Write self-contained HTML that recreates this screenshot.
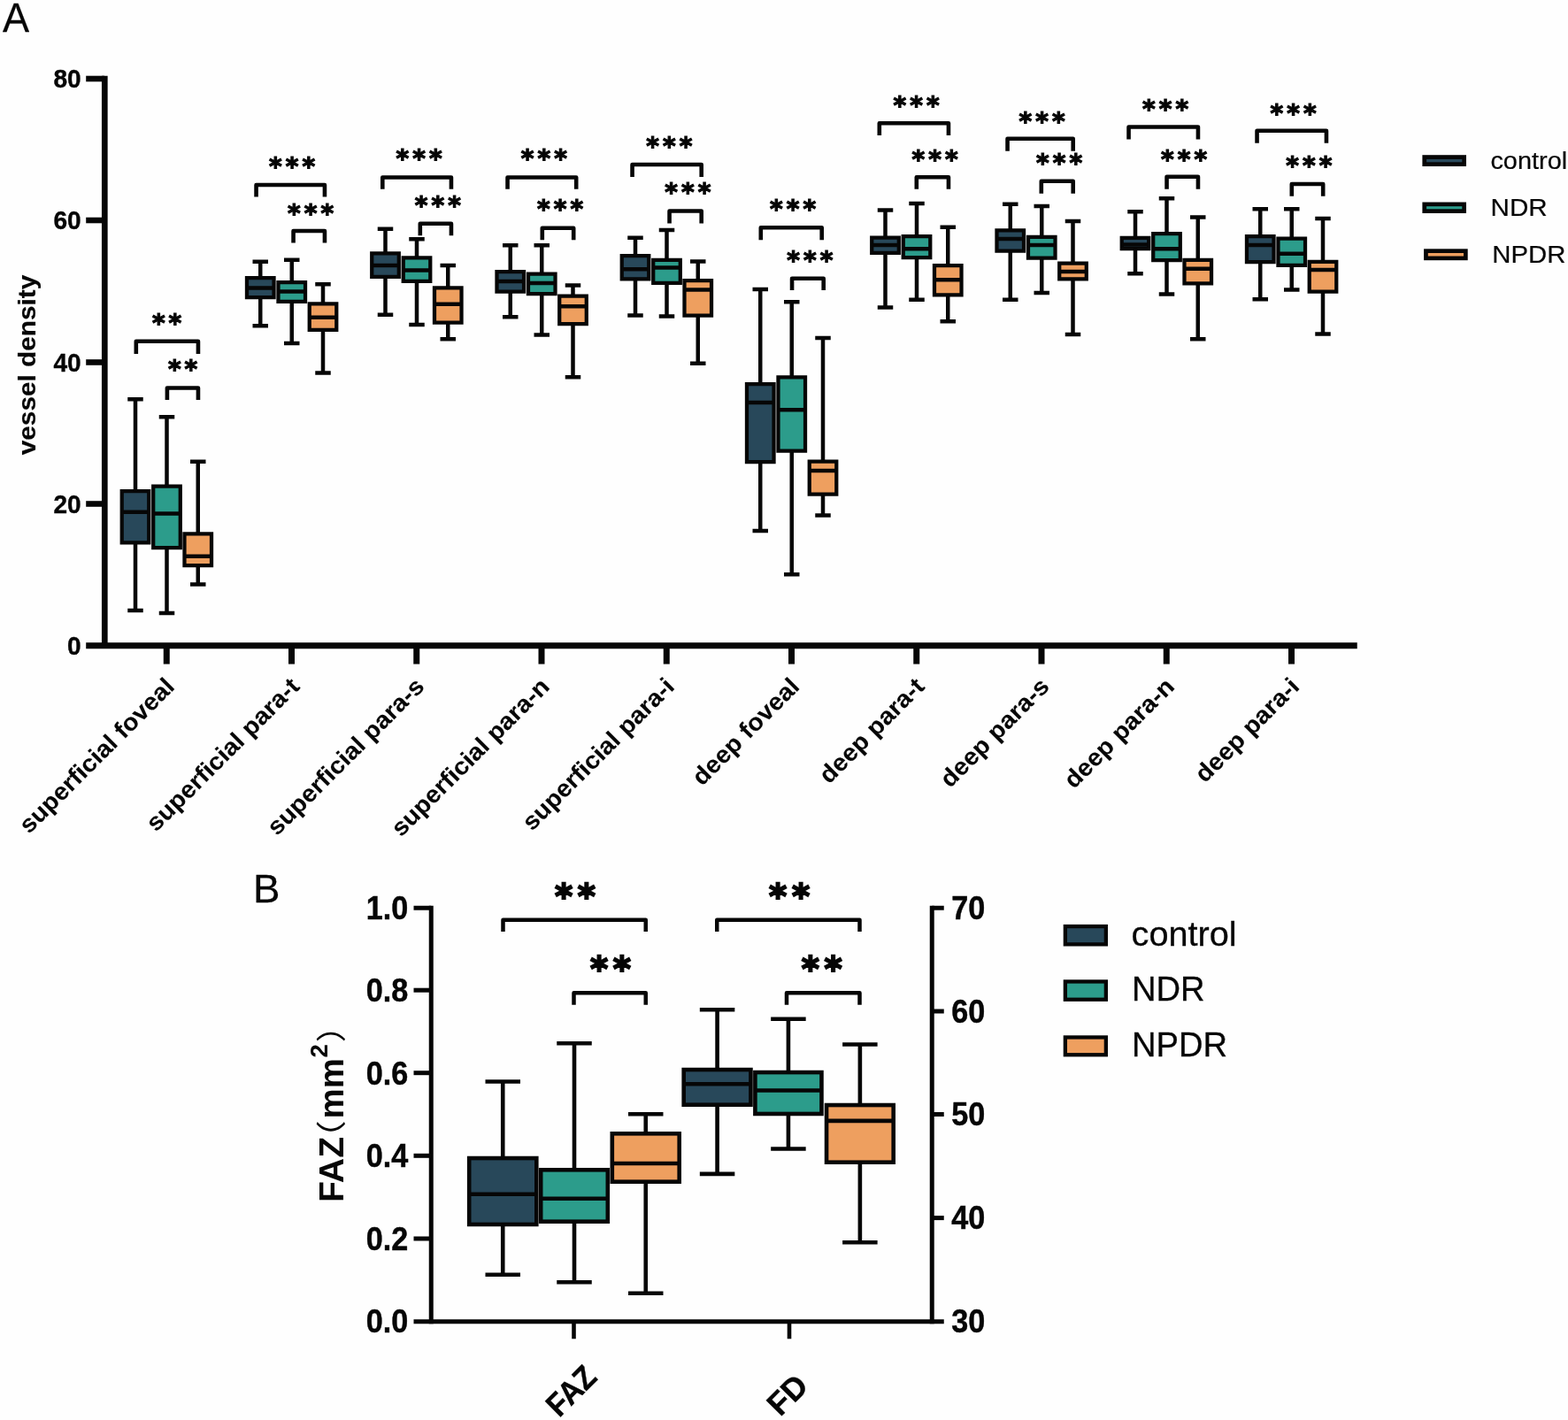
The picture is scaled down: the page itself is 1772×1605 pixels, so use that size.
<!DOCTYPE html>
<html lang="en">
<head>
<meta charset="utf-8">
<title>Vessel density, FAZ and FD box plots</title>
<style>
html,body{margin:0;padding:0;background:#fefefe;}
body{width:1772px;height:1605px;overflow:hidden;}
svg{display:block;}
text{fill:#060606;}
.b{font-family:"Liberation Sans","Noto Sans CJK SC",sans-serif;font-weight:bold;}
.r{font-family:"Liberation Sans","Noto Sans CJK SC",sans-serif;font-weight:normal;}
</style>
</head>
<body>
<svg width="1772" height="1605" viewBox="0 0 1772 1605">
<rect x="0" y="0" width="1772" height="1605" fill="#fefefe"/>
<path d="M118.3 85.75V733.1" stroke="#060606" stroke-width="6.7" fill="none"/>
<path d="M97.2 729.65H1533.75" stroke="#060606" stroke-width="7" fill="none"/>
<path d="M97.2 89H118" stroke="#060606" stroke-width="6.6" fill="none"/>
<path d="M97.2 249H118" stroke="#060606" stroke-width="6.6" fill="none"/>
<path d="M97.2 409.5H118" stroke="#060606" stroke-width="6.6" fill="none"/>
<path d="M97.2 569.5H118" stroke="#060606" stroke-width="6.6" fill="none"/>
<path d="M188.25 729.5V750.6" stroke="#060606" stroke-width="7" fill="none"/>
<path d="M329.5 729.5V750.6" stroke="#060606" stroke-width="7" fill="none"/>
<path d="M470.75 729.5V750.6" stroke="#060606" stroke-width="7" fill="none"/>
<path d="M612 729.5V750.6" stroke="#060606" stroke-width="7" fill="none"/>
<path d="M753.25 729.5V750.6" stroke="#060606" stroke-width="7" fill="none"/>
<path d="M894.5 729.5V750.6" stroke="#060606" stroke-width="7" fill="none"/>
<path d="M1035.75 729.5V750.6" stroke="#060606" stroke-width="7" fill="none"/>
<path d="M1177 729.5V750.6" stroke="#060606" stroke-width="7" fill="none"/>
<path d="M1318.25 729.5V750.6" stroke="#060606" stroke-width="7" fill="none"/>
<path d="M1459.5 729.5V750.6" stroke="#060606" stroke-width="7" fill="none"/>
<text transform="translate(91.6 99.2) scale(0.955 1)" text-anchor="end" class="b" font-size="29.4" stroke="#060606" stroke-width="0.4">80</text>
<text transform="translate(91.6 259.2) scale(0.955 1)" text-anchor="end" class="b" font-size="29.4" stroke="#060606" stroke-width="0.4">60</text>
<text transform="translate(91.6 419.7) scale(0.955 1)" text-anchor="end" class="b" font-size="29.4" stroke="#060606" stroke-width="0.4">40</text>
<text transform="translate(91.6 579.7) scale(0.955 1)" text-anchor="end" class="b" font-size="29.4" stroke="#060606" stroke-width="0.4">20</text>
<text transform="translate(91.6 739.7) scale(0.955 1)" text-anchor="end" class="b" font-size="29.4" stroke="#060606" stroke-width="0.4">0</text>
<text transform="translate(40.3 412.5) rotate(-90) scale(1.075 1)" text-anchor="middle" class="b" font-size="27.7" stroke="#060606" stroke-width="0.15">vessel density</text>
<text transform="translate(2.9 35.6) scale(0.962 1)" class="r" font-size="46.9" stroke="#060606" stroke-width="0.25">A</text>
<text transform="translate(198.65 777.5) rotate(-45) scale(1.052 1)" text-anchor="end" class="b" font-size="27.3" stroke="#060606" stroke-width="0.1">superficial foveal</text>
<text transform="translate(339.9 777.5) rotate(-45) scale(1.052 1)" text-anchor="end" class="b" font-size="27.3" stroke="#060606" stroke-width="0.1">superficial para-t</text>
<text transform="translate(481.15 777.5) rotate(-45) scale(1.052 1)" text-anchor="end" class="b" font-size="27.3" stroke="#060606" stroke-width="0.1">superficial para-s</text>
<text transform="translate(622.4 777.5) rotate(-45) scale(1.052 1)" text-anchor="end" class="b" font-size="27.3" stroke="#060606" stroke-width="0.1">superficial para-n</text>
<text transform="translate(763.65 777.5) rotate(-45) scale(1.052 1)" text-anchor="end" class="b" font-size="27.3" stroke="#060606" stroke-width="0.1">superficial para-i</text>
<text transform="translate(904.9 777.5) rotate(-45) scale(1.052 1)" text-anchor="end" class="b" font-size="27.3" stroke="#060606" stroke-width="0.1">deep foveal</text>
<text transform="translate(1046.15 777.5) rotate(-45) scale(1.052 1)" text-anchor="end" class="b" font-size="27.3" stroke="#060606" stroke-width="0.1">deep para-t</text>
<text transform="translate(1187.4 777.5) rotate(-45) scale(1.052 1)" text-anchor="end" class="b" font-size="27.3" stroke="#060606" stroke-width="0.1">deep para-s</text>
<text transform="translate(1328.65 777.5) rotate(-45) scale(1.052 1)" text-anchor="end" class="b" font-size="27.3" stroke="#060606" stroke-width="0.1">deep para-n</text>
<text transform="translate(1469.9 777.5) rotate(-45) scale(1.052 1)" text-anchor="end" class="b" font-size="27.3" stroke="#060606" stroke-width="0.1">deep para-i</text>
<path d="M153 451.25V690M144.25 451.25H161.75M144.25 690H161.75" stroke="#060606" stroke-width="4.5" fill="none"/>
<rect x="137.72" y="555.12" width="30.55" height="58.25" fill="#28485a" stroke="#060606" stroke-width="4.25"/>
<path d="M137.72 578.75H168.28" stroke="#060606" stroke-width="4.5" fill="none"/>
<path d="M188.5 471.25V693M179.75 471.25H197.25M179.75 693H197.25" stroke="#060606" stroke-width="4.5" fill="none"/>
<rect x="173.22" y="549.62" width="30.55" height="69.5" fill="#2c9c8b" stroke="#060606" stroke-width="4.25"/>
<path d="M173.22 580.5H203.78" stroke="#060606" stroke-width="4.5" fill="none"/>
<path d="M223.75 521.75V660.5M215 521.75H232.5M215 660.5H232.5" stroke="#060606" stroke-width="4.5" fill="none"/>
<rect x="208.47" y="603.38" width="30.55" height="35.75" fill="#ee9f5f" stroke="#060606" stroke-width="4.25"/>
<path d="M208.47 628.75H239.03" stroke="#060606" stroke-width="4.5" fill="none"/>
<path d="M153.8 400V385.7H223.95V400" stroke="#060606" stroke-width="4.6" fill="none" stroke-linejoin="round"/>
<path d="M188.9 452V438.55H223.95V452" stroke="#060606" stroke-width="4.6" fill="none" stroke-linejoin="round"/>
<text x="190.63" y="374.56" text-anchor="middle" font-family="'DejaVu Sans','Liberation Sans',sans-serif" font-weight="bold" font-size="28" letter-spacing="4.07" fill="#060606" stroke="#060606" stroke-width="1.25">**</text>
<text x="208.63" y="427.06" text-anchor="middle" font-family="'DejaVu Sans','Liberation Sans',sans-serif" font-weight="bold" font-size="28" letter-spacing="4.07" fill="#060606" stroke="#060606" stroke-width="1.25">**</text>
<path d="M294.25 295.75V368.25M285.5 295.75H303M285.5 368.25H303" stroke="#060606" stroke-width="4.5" fill="none"/>
<rect x="278.98" y="314.12" width="30.55" height="22" fill="#28485a" stroke="#060606" stroke-width="4.25"/>
<path d="M278.98 325.5H309.52" stroke="#060606" stroke-width="4.5" fill="none"/>
<path d="M329.75 293.75V388M321 293.75H338.5M321 388H338.5" stroke="#060606" stroke-width="4.5" fill="none"/>
<rect x="314.48" y="319.12" width="30.55" height="21.75" fill="#2c9c8b" stroke="#060606" stroke-width="4.25"/>
<path d="M314.48 329.5H345.02" stroke="#060606" stroke-width="4.5" fill="none"/>
<path d="M365 321.25V421.5M356.25 321.25H373.75M356.25 421.5H373.75" stroke="#060606" stroke-width="4.5" fill="none"/>
<rect x="349.73" y="343.38" width="30.55" height="29.5" fill="#ee9f5f" stroke="#060606" stroke-width="4.25"/>
<path d="M349.73 358.75H380.27" stroke="#060606" stroke-width="4.5" fill="none"/>
<path d="M289.55 222.5V209.05H366.95V222.5" stroke="#060606" stroke-width="4.6" fill="none" stroke-linejoin="round"/>
<path d="M331.55 274.5V261.05H366.95V274.5" stroke="#060606" stroke-width="4.6" fill="none" stroke-linejoin="round"/>
<text x="332.04" y="197.75" text-anchor="middle" font-family="'DejaVu Sans','Liberation Sans',sans-serif" font-weight="bold" font-size="28" letter-spacing="4.07" fill="#060606" stroke="#060606" stroke-width="1.25">***</text>
<text x="353.04" y="250.5" text-anchor="middle" font-family="'DejaVu Sans','Liberation Sans',sans-serif" font-weight="bold" font-size="28" letter-spacing="4.07" fill="#060606" stroke="#060606" stroke-width="1.25">***</text>
<path d="M435.5 258.75V355.75M426.75 258.75H444.25M426.75 355.75H444.25" stroke="#060606" stroke-width="4.5" fill="none"/>
<rect x="420.23" y="286.38" width="30.55" height="26.5" fill="#28485a" stroke="#060606" stroke-width="4.25"/>
<path d="M420.23 300H450.77" stroke="#060606" stroke-width="4.5" fill="none"/>
<path d="M471 270.25V367M462.25 270.25H479.75M462.25 367H479.75" stroke="#060606" stroke-width="4.5" fill="none"/>
<rect x="455.73" y="291.38" width="30.55" height="26.5" fill="#2c9c8b" stroke="#060606" stroke-width="4.25"/>
<path d="M455.73 305.5H486.27" stroke="#060606" stroke-width="4.5" fill="none"/>
<path d="M506.25 300V383.25M497.5 300H515M497.5 383.25H515" stroke="#060606" stroke-width="4.5" fill="none"/>
<rect x="490.98" y="325.38" width="30.55" height="39.25" fill="#ee9f5f" stroke="#060606" stroke-width="4.25"/>
<path d="M490.98 343.75H521.52" stroke="#060606" stroke-width="4.5" fill="none"/>
<path d="M432.3 213.75V200.55H509.95V213.75" stroke="#060606" stroke-width="4.6" fill="none" stroke-linejoin="round"/>
<path d="M474.8 266.25V252.8H509.95V266.25" stroke="#060606" stroke-width="4.6" fill="none" stroke-linejoin="round"/>
<text x="475.64" y="189.25" text-anchor="middle" font-family="'DejaVu Sans','Liberation Sans',sans-serif" font-weight="bold" font-size="28" letter-spacing="4.07" fill="#060606" stroke="#060606" stroke-width="1.25">***</text>
<text x="496.79" y="241.75" text-anchor="middle" font-family="'DejaVu Sans','Liberation Sans',sans-serif" font-weight="bold" font-size="28" letter-spacing="4.07" fill="#060606" stroke="#060606" stroke-width="1.25">***</text>
<path d="M576.75 277.25V358.25M568 277.25H585.5M568 358.25H585.5" stroke="#060606" stroke-width="4.5" fill="none"/>
<rect x="561.48" y="307.12" width="30.55" height="22.5" fill="#28485a" stroke="#060606" stroke-width="4.25"/>
<path d="M561.48 318H592.02" stroke="#060606" stroke-width="4.5" fill="none"/>
<path d="M612.25 277.25V378.5M603.5 277.25H621M603.5 378.5H621" stroke="#060606" stroke-width="4.5" fill="none"/>
<rect x="596.98" y="309.62" width="30.55" height="22.5" fill="#2c9c8b" stroke="#060606" stroke-width="4.25"/>
<path d="M596.98 320H627.52" stroke="#060606" stroke-width="4.5" fill="none"/>
<path d="M647.5 322.5V426.25M638.75 322.5H656.25M638.75 426.25H656.25" stroke="#060606" stroke-width="4.5" fill="none"/>
<rect x="632.23" y="334.62" width="30.55" height="31.5" fill="#ee9f5f" stroke="#060606" stroke-width="4.25"/>
<path d="M632.23 346.25H662.77" stroke="#060606" stroke-width="4.5" fill="none"/>
<path d="M573.55 213.75V200.55H651.2V213.75" stroke="#060606" stroke-width="4.6" fill="none" stroke-linejoin="round"/>
<path d="M612.8 271.25V257.8H648.2V271.25" stroke="#060606" stroke-width="4.6" fill="none" stroke-linejoin="round"/>
<text x="616.93" y="189.25" text-anchor="middle" font-family="'DejaVu Sans','Liberation Sans',sans-serif" font-weight="bold" font-size="28" letter-spacing="4.07" fill="#060606" stroke="#060606" stroke-width="1.25">***</text>
<text x="635.03" y="246" text-anchor="middle" font-family="'DejaVu Sans','Liberation Sans',sans-serif" font-weight="bold" font-size="28" letter-spacing="4.07" fill="#060606" stroke="#060606" stroke-width="1.25">***</text>
<path d="M718 268.75V356.5M709.25 268.75H726.75M709.25 356.5H726.75" stroke="#060606" stroke-width="4.5" fill="none"/>
<rect x="702.73" y="289.12" width="30.55" height="26.25" fill="#28485a" stroke="#060606" stroke-width="4.25"/>
<path d="M702.73 304.25H733.27" stroke="#060606" stroke-width="4.5" fill="none"/>
<path d="M753.5 260V357.5M744.75 260H762.25M744.75 357.5H762.25" stroke="#060606" stroke-width="4.5" fill="none"/>
<rect x="738.23" y="293.88" width="30.55" height="26" fill="#2c9c8b" stroke="#060606" stroke-width="4.25"/>
<path d="M738.23 302.5H768.77" stroke="#060606" stroke-width="4.5" fill="none"/>
<path d="M788.75 295.5V410.75M780 295.5H797.5M780 410.75H797.5" stroke="#060606" stroke-width="4.5" fill="none"/>
<rect x="773.48" y="317.12" width="30.55" height="39.5" fill="#ee9f5f" stroke="#060606" stroke-width="4.25"/>
<path d="M773.48 327.5H804.02" stroke="#060606" stroke-width="4.5" fill="none"/>
<path d="M714.55 200V186.05H792.7V200" stroke="#060606" stroke-width="4.6" fill="none" stroke-linejoin="round"/>
<path d="M756.55 252.5V238.55H792.7V252.5" stroke="#060606" stroke-width="4.6" fill="none" stroke-linejoin="round"/>
<text x="758.28" y="174.75" text-anchor="middle" font-family="'DejaVu Sans','Liberation Sans',sans-serif" font-weight="bold" font-size="28" letter-spacing="4.07" fill="#060606" stroke="#060606" stroke-width="1.25">***</text>
<text x="779.28" y="226.75" text-anchor="middle" font-family="'DejaVu Sans','Liberation Sans',sans-serif" font-weight="bold" font-size="28" letter-spacing="4.07" fill="#060606" stroke="#060606" stroke-width="1.25">***</text>
<path d="M859.25 327V600M850.5 327H868M850.5 600H868" stroke="#060606" stroke-width="4.5" fill="none"/>
<rect x="843.98" y="434.12" width="30.55" height="88" fill="#28485a" stroke="#060606" stroke-width="4.25"/>
<path d="M843.98 455H874.52" stroke="#060606" stroke-width="4.5" fill="none"/>
<path d="M894.75 341.25V649.25M886 341.25H903.5M886 649.25H903.5" stroke="#060606" stroke-width="4.5" fill="none"/>
<rect x="879.48" y="426.38" width="30.55" height="83.25" fill="#2c9c8b" stroke="#060606" stroke-width="4.25"/>
<path d="M879.48 463.25H910.02" stroke="#060606" stroke-width="4.5" fill="none"/>
<path d="M930 382V582.5M921.25 382H938.75M921.25 582.5H938.75" stroke="#060606" stroke-width="4.5" fill="none"/>
<rect x="914.73" y="521.62" width="30.55" height="37" fill="#ee9f5f" stroke="#060606" stroke-width="4.25"/>
<path d="M914.73 532H945.27" stroke="#060606" stroke-width="4.5" fill="none"/>
<path d="M859.8 271.25V257.3H928.7V271.25" stroke="#060606" stroke-width="4.6" fill="none" stroke-linejoin="round"/>
<path d="M895.05 328V314.8H930.7V328" stroke="#060606" stroke-width="4.6" fill="none" stroke-linejoin="round"/>
<text x="898.03" y="246" text-anchor="middle" font-family="'DejaVu Sans','Liberation Sans',sans-serif" font-weight="bold" font-size="28" letter-spacing="4.07" fill="#060606" stroke="#060606" stroke-width="1.25">***</text>
<text x="917.43" y="303.5" text-anchor="middle" font-family="'DejaVu Sans','Liberation Sans',sans-serif" font-weight="bold" font-size="28" letter-spacing="4.07" fill="#060606" stroke="#060606" stroke-width="1.25">***</text>
<path d="M1000.5 237.5V347.5M991.75 237.5H1009.25M991.75 347.5H1009.25" stroke="#060606" stroke-width="4.5" fill="none"/>
<rect x="985.23" y="268.62" width="30.55" height="17.25" fill="#28485a" stroke="#060606" stroke-width="4.25"/>
<path d="M985.23 277H1015.77" stroke="#060606" stroke-width="4.5" fill="none"/>
<path d="M1036 230V338.75M1027.25 230H1044.75M1027.25 338.75H1044.75" stroke="#060606" stroke-width="4.5" fill="none"/>
<rect x="1020.73" y="267.12" width="30.55" height="24" fill="#2c9c8b" stroke="#060606" stroke-width="4.25"/>
<path d="M1020.73 281.25H1051.28" stroke="#060606" stroke-width="4.5" fill="none"/>
<path d="M1071.25 256.75V363.25M1062.5 256.75H1080M1062.5 363.25H1080" stroke="#060606" stroke-width="4.5" fill="none"/>
<rect x="1055.97" y="300.12" width="30.55" height="33.25" fill="#ee9f5f" stroke="#060606" stroke-width="4.25"/>
<path d="M1055.97 316.25H1086.53" stroke="#060606" stroke-width="4.5" fill="none"/>
<path d="M993.8 153V139.3H1071.95V153" stroke="#060606" stroke-width="4.6" fill="none" stroke-linejoin="round"/>
<path d="M1035.8 213.75V200.3H1071.95V213.75" stroke="#060606" stroke-width="4.6" fill="none" stroke-linejoin="round"/>
<text x="1037.54" y="128.5" text-anchor="middle" font-family="'DejaVu Sans','Liberation Sans',sans-serif" font-weight="bold" font-size="28" letter-spacing="4.07" fill="#060606" stroke="#060606" stroke-width="1.25">***</text>
<text x="1058.54" y="189.75" text-anchor="middle" font-family="'DejaVu Sans','Liberation Sans',sans-serif" font-weight="bold" font-size="28" letter-spacing="4.07" fill="#060606" stroke="#060606" stroke-width="1.25">***</text>
<path d="M1141.75 230.75V338.75M1133 230.75H1150.5M1133 338.75H1150.5" stroke="#060606" stroke-width="4.5" fill="none"/>
<rect x="1126.47" y="260.38" width="30.55" height="23.25" fill="#28485a" stroke="#060606" stroke-width="4.25"/>
<path d="M1126.47 270H1157.03" stroke="#060606" stroke-width="4.5" fill="none"/>
<path d="M1177.25 233V331M1168.5 233H1186M1168.5 331H1186" stroke="#060606" stroke-width="4.5" fill="none"/>
<rect x="1161.97" y="267.88" width="30.55" height="23.75" fill="#2c9c8b" stroke="#060606" stroke-width="4.25"/>
<path d="M1161.97 277H1192.53" stroke="#060606" stroke-width="4.5" fill="none"/>
<path d="M1212.5 250V378M1203.75 250H1221.25M1203.75 378H1221.25" stroke="#060606" stroke-width="4.5" fill="none"/>
<rect x="1197.22" y="297.62" width="30.55" height="17.75" fill="#ee9f5f" stroke="#060606" stroke-width="4.25"/>
<path d="M1197.22 307H1227.78" stroke="#060606" stroke-width="4.5" fill="none"/>
<path d="M1138.55 170.75V156.8H1212.7V170.75" stroke="#060606" stroke-width="4.6" fill="none" stroke-linejoin="round"/>
<path d="M1176.8 218.75V204.8H1212.7V218.75" stroke="#060606" stroke-width="4.6" fill="none" stroke-linejoin="round"/>
<text x="1179.54" y="146.75" text-anchor="middle" font-family="'DejaVu Sans','Liberation Sans',sans-serif" font-weight="bold" font-size="28" letter-spacing="4.07" fill="#060606" stroke="#060606" stroke-width="1.25">***</text>
<text x="1199.04" y="193.5" text-anchor="middle" font-family="'DejaVu Sans','Liberation Sans',sans-serif" font-weight="bold" font-size="28" letter-spacing="4.07" fill="#060606" stroke="#060606" stroke-width="1.25">***</text>
<path d="M1283 239.25V309.25M1274.25 239.25H1291.75M1274.25 309.25H1291.75" stroke="#060606" stroke-width="4.5" fill="none"/>
<rect x="1267.72" y="268.88" width="30.55" height="12.25" fill="#28485a" stroke="#060606" stroke-width="4.25"/>
<path d="M1267.72 276.5H1298.28" stroke="#060606" stroke-width="4.5" fill="none"/>
<path d="M1318.5 224.25V332.5M1309.75 224.25H1327.25M1309.75 332.5H1327.25" stroke="#060606" stroke-width="4.5" fill="none"/>
<rect x="1303.22" y="264.12" width="30.55" height="30" fill="#2c9c8b" stroke="#060606" stroke-width="4.25"/>
<path d="M1303.22 281.25H1333.78" stroke="#060606" stroke-width="4.5" fill="none"/>
<path d="M1353.75 245.5V383.25M1345 245.5H1362.5M1345 383.25H1362.5" stroke="#060606" stroke-width="4.5" fill="none"/>
<rect x="1338.47" y="293.88" width="30.55" height="26.5" fill="#ee9f5f" stroke="#060606" stroke-width="4.25"/>
<path d="M1338.47 303.75H1369.03" stroke="#060606" stroke-width="4.5" fill="none"/>
<path d="M1275.55 157.5V143.55H1353.95V157.5" stroke="#060606" stroke-width="4.6" fill="none" stroke-linejoin="round"/>
<path d="M1318.55 213.75V199.8H1353.95V213.75" stroke="#060606" stroke-width="4.6" fill="none" stroke-linejoin="round"/>
<text x="1319.04" y="133" text-anchor="middle" font-family="'DejaVu Sans','Liberation Sans',sans-serif" font-weight="bold" font-size="28" letter-spacing="4.07" fill="#060606" stroke="#060606" stroke-width="1.25">***</text>
<text x="1340.13" y="189.75" text-anchor="middle" font-family="'DejaVu Sans','Liberation Sans',sans-serif" font-weight="bold" font-size="28" letter-spacing="4.07" fill="#060606" stroke="#060606" stroke-width="1.25">***</text>
<path d="M1424.25 236.25V338.25M1415.5 236.25H1433M1415.5 338.25H1433" stroke="#060606" stroke-width="4.5" fill="none"/>
<rect x="1408.97" y="267.12" width="30.55" height="29" fill="#28485a" stroke="#060606" stroke-width="4.25"/>
<path d="M1408.97 277H1439.53" stroke="#060606" stroke-width="4.5" fill="none"/>
<path d="M1459.75 236.25V327.5M1451 236.25H1468.5M1451 327.5H1468.5" stroke="#060606" stroke-width="4.5" fill="none"/>
<rect x="1444.47" y="269.62" width="30.55" height="30.25" fill="#2c9c8b" stroke="#060606" stroke-width="4.25"/>
<path d="M1444.47 286.75H1475.03" stroke="#060606" stroke-width="4.5" fill="none"/>
<path d="M1495 247V377.5M1486.25 247H1503.75M1486.25 377.5H1503.75" stroke="#060606" stroke-width="4.5" fill="none"/>
<rect x="1479.72" y="295.88" width="30.55" height="33.75" fill="#ee9f5f" stroke="#060606" stroke-width="4.25"/>
<path d="M1479.72 305H1510.28" stroke="#060606" stroke-width="4.5" fill="none"/>
<path d="M1420.55 161.75V147.8H1498.95V161.75" stroke="#060606" stroke-width="4.6" fill="none" stroke-linejoin="round"/>
<path d="M1459.8 221.75V208.05H1495.2V221.75" stroke="#060606" stroke-width="4.6" fill="none" stroke-linejoin="round"/>
<text x="1463.63" y="137.5" text-anchor="middle" font-family="'DejaVu Sans','Liberation Sans',sans-serif" font-weight="bold" font-size="28" letter-spacing="4.07" fill="#060606" stroke="#060606" stroke-width="1.25">***</text>
<text x="1481.29" y="197.25" text-anchor="middle" font-family="'DejaVu Sans','Liberation Sans',sans-serif" font-weight="bold" font-size="28" letter-spacing="4.07" fill="#060606" stroke="#060606" stroke-width="1.25">***</text>
<rect x="1609.75" y="177.55" width="44.9" height="8.1" fill="#28485a" stroke="#060606" stroke-width="4.7"/>
<text transform="translate(1684.4 191.3) scale(1.080 1)" class="r" font-size="26.8" stroke="#060606" stroke-width="0.2">control</text>
<rect x="1609.75" y="230.85" width="44.9" height="7.8" fill="#2c9c8b" stroke="#060606" stroke-width="4.7"/>
<text transform="translate(1684.6 244.4) scale(1.105 1)" class="r" font-size="26.8" stroke="#060606" stroke-width="0.2">NDR</text>
<rect x="1611.45" y="283.65" width="44.9" height="8.2" fill="#ee9f5f" stroke="#060606" stroke-width="4.7"/>
<text transform="translate(1686.3 297.4) scale(1.095 1)" class="r" font-size="26.8" stroke="#060606" stroke-width="0.2">NPDR</text>
<path d="M487.25 1023.75V1496.25" stroke="#060606" stroke-width="5" fill="none"/>
<path d="M1053.25 1023.75V1496.25" stroke="#060606" stroke-width="5" fill="none"/>
<path d="M467.5 1493.75H1066.75" stroke="#060606" stroke-width="5" fill="none"/>
<path d="M467.5 1026.25H487.25" stroke="#060606" stroke-width="5" fill="none"/>
<path d="M467.5 1119.2H487.25" stroke="#060606" stroke-width="5" fill="none"/>
<path d="M467.5 1212.7H487.25" stroke="#060606" stroke-width="5" fill="none"/>
<path d="M467.5 1306.3H487.25" stroke="#060606" stroke-width="5" fill="none"/>
<path d="M467.5 1400H487.25" stroke="#060606" stroke-width="5" fill="none"/>
<path d="M1053.25 1026.25H1066.75" stroke="#060606" stroke-width="5" fill="none"/>
<path d="M1053.25 1143H1066.75" stroke="#060606" stroke-width="5" fill="none"/>
<path d="M1053.25 1259.5H1066.75" stroke="#060606" stroke-width="5" fill="none"/>
<path d="M1053.25 1376.6H1066.75" stroke="#060606" stroke-width="5" fill="none"/>
<path d="M648.5 1493.75V1513.25" stroke="#060606" stroke-width="4.6" fill="none"/>
<path d="M892 1493.75V1513.25" stroke="#060606" stroke-width="4.6" fill="none"/>
<text transform="translate(461.3 1039.05) scale(0.950 1)" text-anchor="end" class="b" font-size="36" stroke="#060606" stroke-width="0.45">1.0</text>
<text transform="translate(461.3 1132) scale(0.950 1)" text-anchor="end" class="b" font-size="36" stroke="#060606" stroke-width="0.45">0.8</text>
<text transform="translate(461.3 1225.5) scale(0.950 1)" text-anchor="end" class="b" font-size="36" stroke="#060606" stroke-width="0.45">0.6</text>
<text transform="translate(461.3 1319.1) scale(0.950 1)" text-anchor="end" class="b" font-size="36" stroke="#060606" stroke-width="0.45">0.4</text>
<text transform="translate(461.3 1412.8) scale(0.950 1)" text-anchor="end" class="b" font-size="36" stroke="#060606" stroke-width="0.45">0.2</text>
<text transform="translate(461.3 1506.2) scale(0.950 1)" text-anchor="end" class="b" font-size="36" stroke="#060606" stroke-width="0.45">0.0</text>
<text transform="translate(1075.3 1039.05) scale(0.950 1)" class="b" font-size="36" stroke="#060606" stroke-width="0.45">70</text>
<text transform="translate(1075.3 1155.8) scale(0.950 1)" class="b" font-size="36" stroke="#060606" stroke-width="0.45">60</text>
<text transform="translate(1075.3 1272.3) scale(0.950 1)" class="b" font-size="36" stroke="#060606" stroke-width="0.45">50</text>
<text transform="translate(1075.3 1389.4) scale(0.950 1)" class="b" font-size="36" stroke="#060606" stroke-width="0.45">40</text>
<text transform="translate(1075.3 1506.2) scale(0.950 1)" class="b" font-size="36" stroke="#060606" stroke-width="0.45">30</text>
<text transform="translate(286 1020) scale(1.040 1)" class="r" font-size="43.9" stroke="#060606" stroke-width="0.25">B</text>
<g transform="translate(388 1356.5) rotate(-90)"><text transform="translate(-2.5 0) scale(1.02 1)" class="b" font-size="38.5">FAZ</text><text transform="translate(49.6 -1) scale(1.2 1)" class="r" font-size="34">（</text><text x="92" y="0" class="b" font-size="38.5">mm</text><text x="161" y="-17.6" class="r" font-size="27.5" style="font-weight:600">2</text><text transform="translate(178.2 -1) scale(1.12 1)" class="r" font-size="34">）</text></g>
<text transform="translate(676.5 1558.5) rotate(-45) scale(0.920 1)" text-anchor="end" class="b" font-size="36.3" stroke="#060606" stroke-width="0.4">FAZ</text>
<text transform="translate(915.3 1568.5) rotate(-45) scale(0.980 1)" text-anchor="end" class="b" font-size="36.3" stroke="#060606" stroke-width="0.4">FD</text>
<path d="M568.25 1222.5V1440.75M548.5 1222.5H588M548.5 1440.75H588" stroke="#060606" stroke-width="4.6" fill="none"/>
<rect x="530.2" y="1309.05" width="76.1" height="74.9" fill="#28485a" stroke="#060606" stroke-width="4.6"/>
<path d="M530.2 1349.75H606.3" stroke="#060606" stroke-width="4.6" fill="none"/>
<path d="M649 1179.25V1449.25M629.25 1179.25H668.75M629.25 1449.25H668.75" stroke="#060606" stroke-width="4.6" fill="none"/>
<rect x="611.2" y="1322.3" width="75.6" height="58.4" fill="#2c9c8b" stroke="#060606" stroke-width="4.6"/>
<path d="M611.2 1354.75H686.8" stroke="#060606" stroke-width="4.6" fill="none"/>
<path d="M729.75 1259.25V1461.75M710 1259.25H749.5M710 1461.75H749.5" stroke="#060606" stroke-width="4.6" fill="none"/>
<rect x="691.8" y="1281.3" width="75.9" height="54.4" fill="#ee9f5f" stroke="#060606" stroke-width="4.6"/>
<path d="M691.8 1315H767.7" stroke="#060606" stroke-width="4.6" fill="none"/>
<path d="M810.58 1141.25V1326.9M790.83 1141.25H830.33M790.83 1326.9H830.33" stroke="#060606" stroke-width="4.6" fill="none"/>
<rect x="772.7" y="1209.05" width="75.75" height="39.65" fill="#28485a" stroke="#060606" stroke-width="4.6"/>
<path d="M772.7 1225.25H848.45" stroke="#060606" stroke-width="4.6" fill="none"/>
<path d="M890.92 1151.75V1298.5M871.17 1151.75H910.67M871.17 1298.5H910.67" stroke="#060606" stroke-width="4.6" fill="none"/>
<rect x="853.4" y="1212.05" width="75.05" height="46.9" fill="#2c9c8b" stroke="#060606" stroke-width="4.6"/>
<path d="M853.4 1232.5H928.45" stroke="#060606" stroke-width="4.6" fill="none"/>
<path d="M971.88 1180.5V1404.25M952.12 1180.5H991.62M952.12 1404.25H991.62" stroke="#060606" stroke-width="4.6" fill="none"/>
<rect x="934.05" y="1249.05" width="75.65" height="64.65" fill="#ee9f5f" stroke="#060606" stroke-width="4.6"/>
<path d="M934.05 1266.9H1009.7" stroke="#060606" stroke-width="4.6" fill="none"/>
<path d="M568.5 1053V1039.75H729.75V1053" stroke="#060606" stroke-width="4.5" fill="none" stroke-linejoin="round"/>
<path d="M648.5 1135.75V1122.25H729.75V1135.75" stroke="#060606" stroke-width="4.5" fill="none" stroke-linejoin="round"/>
<path d="M810.25 1053V1039.75H971.5V1053" stroke="#060606" stroke-width="4.5" fill="none" stroke-linejoin="round"/>
<path d="M889 1135.75V1122.25H971.5V1135.75" stroke="#060606" stroke-width="4.5" fill="none" stroke-linejoin="round"/>
<text x="652.87" y="1026.65" text-anchor="middle" font-family="'DejaVu Sans','Liberation Sans',sans-serif" font-weight="bold" font-size="38.6" letter-spacing="5.73" fill="#060606" stroke="#060606" stroke-width="1.9">**</text>
<text x="692.87" y="1108.85" text-anchor="middle" font-family="'DejaVu Sans','Liberation Sans',sans-serif" font-weight="bold" font-size="38.6" letter-spacing="5.73" fill="#060606" stroke="#060606" stroke-width="1.9">**</text>
<text x="894.97" y="1026.65" text-anchor="middle" font-family="'DejaVu Sans','Liberation Sans',sans-serif" font-weight="bold" font-size="38.6" letter-spacing="5.73" fill="#060606" stroke="#060606" stroke-width="1.9">**</text>
<text x="931.57" y="1108.85" text-anchor="middle" font-family="'DejaVu Sans','Liberation Sans',sans-serif" font-weight="bold" font-size="38.6" letter-spacing="5.73" fill="#060606" stroke="#060606" stroke-width="1.9">**</text>
<rect x="1203.85" y="1047.05" width="46" height="20.3" fill="#28485a" stroke="#060606" stroke-width="4.3"/>
<text transform="translate(1278.6 1068.6) scale(1.030 1)" class="r" font-size="38.5" stroke="#060606" stroke-width="0.3">control</text>
<rect x="1203.85" y="1109.45" width="46" height="20.3" fill="#2c9c8b" stroke="#060606" stroke-width="4.3"/>
<text transform="translate(1279 1131.4) scale(0.990 1)" class="r" font-size="38.5" stroke="#060606" stroke-width="0.3">NDR</text>
<rect x="1203.85" y="1172.45" width="46" height="19.8" fill="#ee9f5f" stroke="#060606" stroke-width="4.3"/>
<text transform="translate(1279 1194.1) scale(0.990 1)" class="r" font-size="38.5" stroke="#060606" stroke-width="0.3">NPDR</text>
</svg>
</body>
</html>
